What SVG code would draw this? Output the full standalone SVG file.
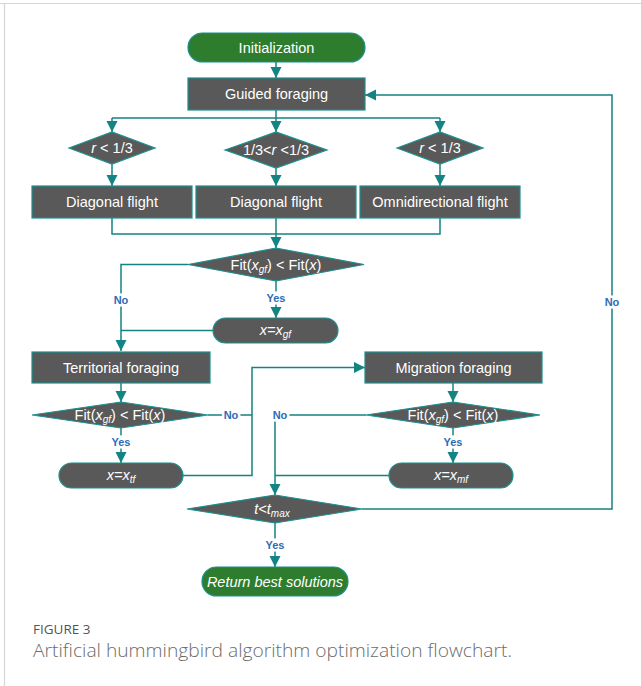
<svg xmlns="http://www.w3.org/2000/svg" width="641" height="686" viewBox="0 0 641 686">
<defs>
<marker id="ah" markerUnits="userSpaceOnUse" markerWidth="12" markerHeight="12" viewBox="0 0 12 12" refX="11" refY="6" orient="auto">
<path d="M0,0.5 L11,6 L0,11.5 Z" fill="#138483"/>
</marker>
<style>
.ln{fill:none;stroke:#138483;stroke-width:1.5}
.box{fill:#595959;stroke:#1a9090;stroke-width:1.2}
.grn{fill:#2e7d2e;stroke:#1a9090;stroke-width:1.2}
.t{font-family:"Liberation Sans",Arial,sans-serif;font-size:14.5px;fill:#ffffff;text-anchor:middle}
.i{font-style:italic}
.lb{font-family:"Liberation Sans",Arial,sans-serif;font-size:11px;font-weight:bold;fill:#2c6db5;text-anchor:middle;stroke:#ffffff;stroke-width:5;paint-order:stroke}
</style>
</defs>
<rect x="0" y="0" width="641" height="686" fill="#ffffff"/>
<path d="M0,3.5 H641 M4.5,3 V686" stroke="#d6d6d6" stroke-width="1.2" fill="none"/>

<g id="connectors">
<path class="ln" d="M276,62 V78" marker-end="url(#ah)"/>
<path class="ln" d="M276,110 V118 M112,118 H440"/>
<path class="ln" d="M112,118 V132" marker-end="url(#ah)"/>
<path class="ln" d="M276,118 V132" marker-end="url(#ah)"/>
<path class="ln" d="M440,118 V132" marker-end="url(#ah)"/>
<path class="ln" d="M112,164 V186" marker-end="url(#ah)"/>
<path class="ln" d="M276,168 V186" marker-end="url(#ah)"/>
<path class="ln" d="M440,164 V186" marker-end="url(#ah)"/>
<path class="ln" d="M112,218 V234 H440 V218"/>
<path class="ln" d="M276,218 V248" marker-end="url(#ah)"/>
<path class="ln" d="M188,264.5 H121 V351" marker-end="url(#ah)"/>
<path class="ln" d="M213,330.5 H121"/>
<path class="ln" d="M276,281 V318" marker-end="url(#ah)"/>
<path class="ln" d="M121,383 V402" marker-end="url(#ah)"/>
<path class="ln" d="M121,428 V463" marker-end="url(#ah)"/>
<path class="ln" d="M208,415 H252 M183,475.5 H252 V367.5 H365" marker-end="url(#ah)"/>
<path class="ln" d="M453,383 V402" marker-end="url(#ah)"/>
<path class="ln" d="M453,428 V463" marker-end="url(#ah)"/>
<path class="ln" d="M366,415 H275 V495" marker-end="url(#ah)"/>
<path class="ln" d="M389,475.5 H275"/>
<path class="ln" d="M362,509 H612 V95 H365" marker-end="url(#ah)"/>
<path class="ln" d="M275,523 V567" marker-end="url(#ah)"/>
<text class="lb" x="121" y="304">No</text>
<text class="lb" x="276" y="302">Yes</text>
<text class="lb" x="231" y="419">No</text>
<text class="lb" x="280" y="419">No</text>
<text class="lb" x="121" y="446">Yes</text>
<text class="lb" x="453" y="446">Yes</text>
<text class="lb" x="612" y="306">No</text>
<text class="lb" x="275" y="549">Yes</text>
</g>

<g id="init">
<rect class="grn" x="188" y="33" width="177" height="29" rx="14.5"/>
<text class="t" x="276.5" y="52.5">Initialization</text>
</g>
<g id="guided">
<rect class="box" x="188" y="78" width="177" height="32"/>
<text class="t" x="276.5" y="99">Guided foraging</text>
</g>
<g id="d1">
<polygon class="box" points="69,148 112,132 155,148 112,164"/>
<text class="t" x="112" y="153"><tspan class="i">r</tspan> &lt; 1/3</text>
</g>
<g id="d2">
<polygon class="box" points="225,150 276,132 327,150 276,168"/>
<text class="t" x="276" y="155">1/3&lt;<tspan class="i">r</tspan> &lt;1/3</text>
</g>
<g id="d3">
<polygon class="box" points="397,148 440,132 483,148 440,164"/>
<text class="t" x="440" y="153"><tspan class="i">r</tspan> &lt; 1/3</text>
</g>
<g id="diag1">
<rect class="box" x="32" y="186" width="160" height="32"/>
<text class="t" x="112" y="207">Diagonal flight</text>
</g>
<g id="diag2">
<rect class="box" x="196" y="186" width="160" height="32"/>
<text class="t" x="276" y="207">Diagonal flight</text>
</g>
<g id="omni">
<rect class="box" x="360" y="186" width="160" height="32"/>
<text class="t" x="440" y="207">Omnidirectional flight</text>
</g>
<g id="fit1">
<polygon class="box" points="188,264.5 276,248 364,264.5 276,281"/>
<text class="t" x="276" y="269.5">Fit(<tspan class="i">x</tspan><tspan class="i" font-size="10" dy="3">gf</tspan><tspan dy="-3">) &lt; Fit(</tspan><tspan class="i">x</tspan>)</text>
</g>
<g id="xgf">
<rect class="box" x="213" y="318" width="125" height="25" rx="12.5"/>
<text class="t i" x="275.5" y="335">x=x<tspan font-size="10" dy="3">gf</tspan></text>
</g>
<g id="territorial">
<rect class="box" x="32" y="352" width="178" height="31"/>
<text class="t" x="121" y="372.5">Territorial foraging</text>
</g>
<g id="migration">
<rect class="box" x="365" y="352" width="177" height="31"/>
<text class="t" x="453.5" y="372.5">Migration foraging</text>
</g>
<g id="fit2">
<polygon class="box" points="32,415 121,402 208,415 121,428"/>
<text class="t" x="120" y="420">Fit(<tspan class="i">x</tspan><tspan class="i" font-size="10" dy="3">gf</tspan><tspan dy="-3">) &lt; Fit(</tspan><tspan class="i">x</tspan>)</text>
</g>
<g id="fit3">
<polygon class="box" points="366,415 453,402 540,415 453,428"/>
<text class="t" x="453" y="420">Fit(<tspan class="i">x</tspan><tspan class="i" font-size="10" dy="3">gf</tspan><tspan dy="-3">) &lt; Fit(</tspan><tspan class="i">x</tspan>)</text>
</g>
<g id="xtf">
<rect class="box" x="59" y="463" width="124" height="25" rx="12.5"/>
<text class="t i" x="121" y="480">x=x<tspan font-size="10" dy="3">tf</tspan></text>
</g>
<g id="xmf">
<rect class="box" x="389" y="463" width="124" height="25" rx="12.5"/>
<text class="t i" x="451" y="480">x=x<tspan font-size="10" dy="3">mf</tspan></text>
</g>
<g id="tmax">
<polygon class="box" points="187,509 275,495 362,509 275,523"/>
<text class="t i" x="272" y="514">t&lt;t<tspan font-size="10" dy="3">max</tspan></text>
</g>
<g id="return">
<rect class="grn" x="202" y="567" width="146" height="29" rx="14.5"/>
<text class="t i" x="275" y="586.5">Return best solutions</text>
</g>

<g id="caption" font-family="'Open Sans','Liberation Sans',sans-serif">
<text x="33" y="634" font-size="13.5" fill="#555555">FIGURE 3</text>
<text x="33" y="657" font-size="18" fill="#6b6b6b" font-weight="300" textLength="479" lengthAdjust="spacingAndGlyphs">Artificial hummingbird algorithm optimization flowchart.</text>
</g>
</svg>
